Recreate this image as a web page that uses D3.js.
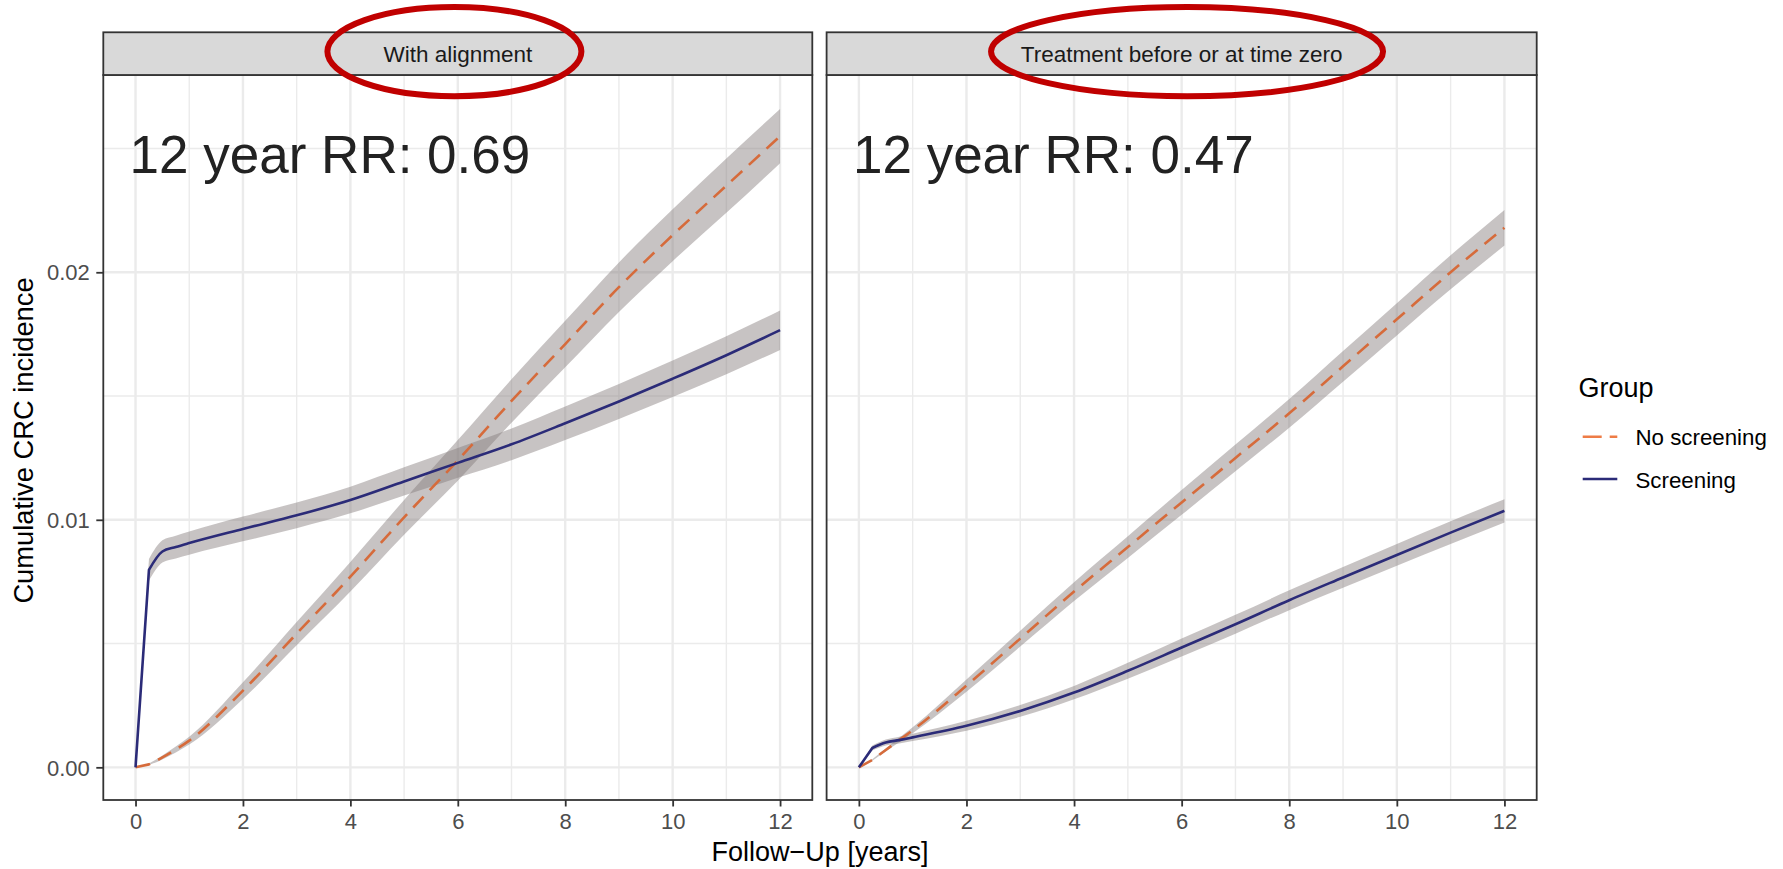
<!DOCTYPE html>
<html><head><meta charset="utf-8">
<script src="https://cdn.jsdelivr.net/npm/d3@7"></script>
<style>body{margin:0;background:#fff} svg{display:block}</style>
</head><body>
<svg id="c" width="1783" height="869"></svg>
<script>
// ---------- data ----------
const time = [0, 0.25, 0.5, 0.75, 1, 2, 3, 4, 5, 6, 7, 8, 9, 10, 11, 12];
const panelTitles = ["With alignment", "Treatment before or at time zero"];
const rrLabels = ["12 year RR: 0.69", "12 year RR: 0.47"];
const groups = ["No screening", "Screening"];

// Panel 1: With alignment
const noScreenAlign     = [0, 0.00012, 0.0004, 0.00072, 0.00108, 0.0031, 0.0054, 0.0077, 0.0101, 0.0124, 0.0148, 0.0171, 0.0194, 0.0215, 0.0235, 0.0255];
const noScreenAlignHalf = [0, 0.00003, 0.00008, 0.00012, 0.00016, 0.00034, 0.00047, 0.0006, 0.0007, 0.00082, 0.00088, 0.00094, 0.001, 0.00105, 0.0011, 0.0011];
const screenAlign       = [0, 0.00798, 0.00872, 0.0089, 0.00906, 0.00963, 0.01018, 0.0108, 0.01155, 0.0123, 0.01305, 0.0139, 0.01478, 0.0157, 0.01665, 0.01766];
const screenAlignHalf   = [0, 0.00044, 0.00045, 0.00046, 0.00047, 0.0005, 0.00052, 0.00054, 0.00057, 0.0006, 0.00064, 0.00068, 0.00071, 0.00074, 0.00077, 0.0008];

// Panel 2: Treatment before or at time zero
const noScreenTreat     = [0, 0.0003, 0.0007, 0.0011, 0.0015, 0.0033, 0.0052, 0.0071, 0.0089, 0.0107, 0.0125, 0.0143, 0.0162, 0.0181, 0.0200, 0.0218];
const noScreenTreatHalf = [0, 0.00003, 0.00006, 0.00009, 0.00012, 0.00025, 0.00032, 0.00038, 0.00044, 0.0005, 0.00054, 0.00058, 0.00062, 0.00065, 0.00069, 0.00072];
const screenTreat       = [0, 0.00078, 0.001, 0.0011, 0.00121, 0.00168, 0.00228, 0.00302, 0.0039, 0.00484, 0.00578, 0.00675, 0.00767, 0.00858, 0.00948, 0.01036];
const screenTreatHalf   = [0, 0.0001, 0.00012, 0.00014, 0.00015, 0.0002, 0.00024, 0.00027, 0.00032, 0.00036, 0.00038, 0.0004, 0.00042, 0.00044, 0.00046, 0.00047];

const xTicks = [0, 2, 4, 6, 8, 10, 12];
const xMinor = [1, 3, 5, 7, 9, 11];
const yTicks = [0, 0.01, 0.02];
const yTickLabels = ["0.00", "0.01", "0.02"];
const yMinor = [0.005, 0.015, 0.025];
const xDomain = [-0.6, 12.6];
const yDomain = [-0.00132, 0.02797];

const panelData = [
  {series: [
    {name: groups[0], v: noScreenAlign, h: noScreenAlignHalf},
    {name: groups[1], v: screenAlign, h: screenAlignHalf}]},
  {series: [
    {name: groups[0], v: noScreenTreat, h: noScreenTreatHalf},
    {name: groups[1], v: screenTreat, h: screenTreatHalf}]}
];

// ---------- styling / layout ----------
const FONT = "'Liberation Sans', Arial, Helvetica, sans-serif";
const colors = {"No screening": "#D66B3B", "Screening": "#2B2B78"};
const legendColors = {"No screening": "#EE7C46", "Screening": "#2B2B78"};
const panelX = [[103.3, 812.3], [826.6, 1536.7]];
const panelTop = 75, panelBottom = 800, stripTop = 32.3;

const svg = d3.select("#c");
svg.append("rect").attr("width", 1783).attr("height", 869).attr("fill", "#fff");

const y = d3.scaleLinear().domain(yDomain).range([panelBottom, panelTop]);

panelData.forEach((pd, i) => {
  const [L, R] = panelX[i];
  const x = d3.scaleLinear().domain(xDomain).range([L, R]);
  const g = svg.append("g");

  g.append("rect").attr("x", L).attr("y", panelTop).attr("width", R - L).attr("height", panelBottom - panelTop).attr("fill", "#fff");

  // minor grid
  g.selectAll(null).data(xMinor).join("line")
    .attr("x1", d => x(d)).attr("x2", d => x(d)).attr("y1", panelTop).attr("y2", panelBottom)
    .attr("stroke", "#EBEBEB").attr("stroke-width", 1.4);
  g.selectAll(null).data(yMinor).join("line")
    .attr("y1", d => y(d)).attr("y2", d => y(d)).attr("x1", L).attr("x2", R)
    .attr("stroke", "#EBEBEB").attr("stroke-width", 1.4);
  // major grid
  g.selectAll(null).data(xTicks).join("line")
    .attr("x1", d => x(d)).attr("x2", d => x(d)).attr("y1", panelTop).attr("y2", panelBottom)
    .attr("stroke", "#EBEBEB").attr("stroke-width", 2.4);
  g.selectAll(null).data(yTicks).join("line")
    .attr("y1", d => y(d)).attr("y2", d => y(d)).attr("x1", L).attr("x2", R)
    .attr("stroke", "#EBEBEB").attr("stroke-width", 2.4);

  // ribbons: straight first step (time 0 -> 0.25), smooth afterwards
  const areaLin = d3.area().x(d => x(d.t)).y0(d => y(d.v - d.h)).y1(d => y(d.v + d.h));
  const areaMono = d3.area().curve(d3.curveMonotoneX).x(d => x(d.t)).y0(d => y(d.v - d.h)).y1(d => y(d.v + d.h));
  pd.series.forEach(s => {
    const pts = s.v.map((v, k) => ({t: time[k], v: v, h: s.h[k]}));
    g.append("path")
      .attr("d", areaLin(pts.slice(0, 2)) + areaMono(pts.slice(1)))
      .attr("fill", "rgb(130,122,122)").attr("fill-opacity", 0.45);
  });

  // lines
  const lineLin = d3.line().x(d => x(d.t)).y(d => y(d.v));
  const lineMono = d3.line().curve(d3.curveMonotoneX).x(d => x(d.t)).y(d => y(d.v));
  pd.series.forEach(s => {
    const pts = s.v.map((v, k) => ({t: time[k], v: v}));
    const dPath = lineLin(pts.slice(0, 2)) + lineMono(pts.slice(1)).replace(/^M/, "L");
    g.append("path").attr("d", dPath)
      .attr("fill", "none").attr("stroke", colors[s.name]).attr("stroke-width", 2.6)
      .attr("stroke-linejoin", "round")
      .attr("stroke-dasharray", s.name === "No screening" ? "15,9" : null);
  });

  // RR annotation
  g.append("text").attr("x", x(-0.11)).attr("y", 173.3)
    .attr("font-family", FONT).attr("font-size", 53).attr("fill", "#222")
    .text(rrLabels[i]);

  // panel border
  g.append("rect").attr("x", L).attr("y", panelTop).attr("width", R - L).attr("height", panelBottom - panelTop)
    .attr("fill", "none").attr("stroke", "#333").attr("stroke-width", 1.8);

  // strip
  g.append("rect").attr("x", L).attr("y", stripTop).attr("width", R - L).attr("height", panelTop - stripTop)
    .attr("fill", "#D9D9D9").attr("stroke", "#333").attr("stroke-width", 1.8);
  g.append("text").attr("x", (L + R) / 2).attr("y", 61.7).attr("text-anchor", "middle")
    .attr("font-family", FONT).attr("font-size", 22.5).attr("fill", "#1A1A1A")
    .text(panelTitles[i]);

  // x axis
  const xAxis = d3.axisBottom(x).tickValues(xTicks).tickSize(6.5).tickPadding(5).tickFormat(d3.format("d"));
  const ax = g.append("g").attr("transform", `translate(0,${panelBottom})`).call(xAxis);
  ax.select(".domain").remove();
  ax.selectAll(".tick line").attr("stroke", "#333").attr("stroke-width", 1.8);
  ax.selectAll(".tick text").attr("font-family", FONT).attr("font-size", 22).attr("fill", "#4D4D4D")
    .attr("dy", null).attr("y", 29.3);

  // y axis (first panel only)
  if (i === 0) {
    const yAxis = d3.axisLeft(y).tickValues(yTicks).tickSize(7).tickPadding(6.5)
      .tickFormat((d, k) => yTickLabels[k]);
    const ay = g.append("g").attr("transform", `translate(${L},0)`).call(yAxis);
    ay.select(".domain").remove();
    ay.selectAll(".tick line").attr("stroke", "#333").attr("stroke-width", 1.8);
    ay.selectAll(".tick text").attr("font-family", FONT).attr("font-size", 22).attr("fill", "#4D4D4D")
      .attr("dy", "0.35em");
  }
});

// axis titles
svg.append("text").attr("x", (panelX[0][0] + panelX[1][1]) / 2).attr("y", 861)
  .attr("text-anchor", "middle").attr("font-family", FONT).attr("font-size", 27).attr("fill", "#000")
  .text("Follow\u2212Up [years]");
svg.append("text").attr("transform", `translate(33,${(panelTop + panelBottom) / 2 + 3}) rotate(-90)`)
  .attr("text-anchor", "middle").attr("font-family", FONT).attr("font-size", 27.3).attr("fill", "#000")
  .text("Cumulative CRC incidence");

// legend
const lg = svg.append("g");
lg.append("text").attr("x", 1578.5).attr("y", 396.7).attr("font-family", FONT).attr("font-size", 27)
  .attr("fill", "#000").text("Group");
const legY = [436.7, 479];
groups.forEach((gname, k) => {
  lg.append("line").attr("x1", 1582.7).attr("x2", 1617.3).attr("y1", legY[k]).attr("y2", legY[k])
    .attr("stroke", legendColors[gname]).attr("stroke-width", 2.6)
    .attr("stroke-dasharray", gname === "No screening" ? "19,8" : null);
  lg.append("text").attr("x", 1635.5).attr("y", legY[k] + 8.5).attr("font-family", FONT).attr("font-size", 22.3)
    .attr("fill", "#000").text(gname);
});

// red highlight ellipses around strip titles
const ellipses = [
  {cx: (panelX[0][0] + panelX[0][1]) / 2 - 3.4, rx: 127},
  {cx: (panelX[1][0] + panelX[1][1]) / 2 + 5.4, rx: 196}
];
ellipses.forEach(e => {
  svg.append("ellipse").attr("cx", e.cx).attr("cy", 51.6).attr("rx", e.rx).attr("ry", 44.6)
    .attr("fill", "none").attr("stroke", "#C00000").attr("stroke-width", 6);
});
</script>
</body></html>
